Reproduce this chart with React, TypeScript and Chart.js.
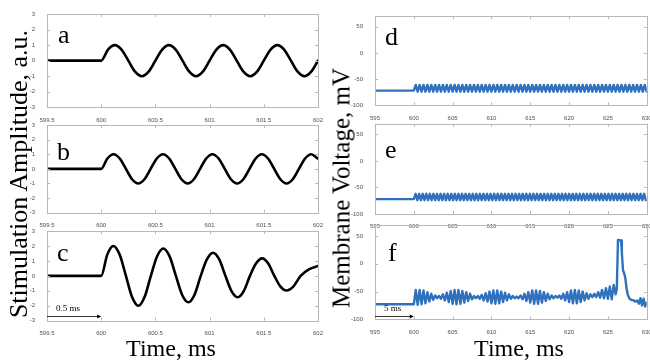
import React, { useEffect, useRef } from 'react';
import { Chart, registerables } from 'chart.js';

Chart.register(...registerables);

const W = 650;
const H = 362;
const YW = 40;
const XH = 20;

// ---------- Left column: stimulation amplitude (a.u.) vs time (ms) ----------
const stimXTicks = [599.5, 600, 600.5, 601, 601.5, 602];
const stimYTicks = [-3, -2, -1, 0, 1, 2, 3];
const stimRestTimes = [599.5, 600];
const stimRest = [0, 0];

// a: read every 1/16 ms from 600 ms
const aStep = 0.0625;
const aAmps = [0,
  0.71, 1, 0.71, 0, -0.71, -1, -0.71, 0,
  0.71, 1, 0.71, 0, -0.71, -1, -0.71, 0,
  0.71, 1, 0.71, 0, -0.71, -1, -0.71, 0,
  0.71, 1, 0.71, 0, -0.71, -1, -0.71, 0];

// b: read every 0.057 ms from 600 ms
const bStep = 0.057;
const bAmps = [0,
  0.71, 1, 0.71, 0, -0.71, -1, -0.71, 0,
  0.71, 1, 0.71, 0, -0.71, -1, -0.71, 0,
  0.71, 1, 0.71, 0, -0.71, -1, -0.71, 0,
  0.71, 1, 0.71, 0, -0.71, -1, -0.71, 0,
  0.71, 1, 0.72];

// c: damped wave
const cTimes = [600, 600.056, 600.112, 600.17, 600.228, 600.285, 600.343, 600.4, 600.458, 600.515, 600.573, 600.631, 600.689, 600.746, 600.804, 600.861, 600.918, 600.975, 601.032, 601.089, 601.146, 601.202, 601.259, 601.315, 601.372, 601.428, 601.485, 601.541, 601.597, 601.652, 601.708, 601.774, 601.84, 601.92, 602];
const cAmps = [0, 1.42, 2.0, 1.42, 0, -1.42, -2.0, -1.42, 0, 1.3, 1.83, 1.3, 0, -1.26, -1.77, -1.26, 0, 1.1, 1.55, 1.1, 0, -1.02, -1.43, -1.02, 0, 0.83, 1.17, 0.83, 0, -0.7, -0.98, -0.7, 0, 0.45, 0.66];

// ---------- Right column: membrane voltage (mV) vs time (ms) ----------
const voltXTicks = [595, 600, 605, 610, 615, 620, 625, 630];
const voltYTicks = [-100, -50, 0, 50];
const restTimes = [595, 600];

const dRest = [-72, -72];
const dStep = 0.25; // ms between samples, starting at 600 ms
const dVolts = [-72,
  -61, -74, -61, -74, -61, -74, -61, -74, -61, -74, -61, -74, -61, -74, -61, -74, -61, -74, -61, -74,
  -61, -74, -61, -74, -61, -74, -61, -74, -61, -74, -61, -74, -61, -74, -61, -74, -61, -74, -61, -74,
  -61, -74, -61, -74, -61, -74, -61, -74, -61, -74, -61, -74, -61, -74, -61, -74, -61, -74, -61, -74,
  -61, -74, -61, -74, -61, -74, -61, -74, -61, -74, -61, -74, -61, -74, -61, -74, -61, -74, -61, -74,
  -61, -74, -61, -74, -61, -74, -61, -74, -61, -74, -61, -74, -61, -74, -61, -74, -61, -74, -61, -74,
  -61, -74, -61, -74, -61, -74, -61, -74, -61, -74, -61, -74, -61, -74, -61, -74, -61, -74, -61, -74];

const eRest = [-72, -72];
const eStep = 0.23;
const eVolts = [-72,
  -62, -74, -62, -74, -62, -74, -62, -74, -62, -74, -62, -74, -62, -74, -62, -74, -62, -74, -62, -74,
  -62, -74, -62, -74, -62, -74, -62, -74, -62, -74, -62, -74, -62, -74, -62, -74, -62, -74, -62, -74,
  -62, -74, -62, -74, -62, -74, -62, -74, -62, -74, -62, -74, -62, -74, -62, -74, -62, -74, -62, -74,
  -62, -74, -62, -74, -62, -74, -62, -74, -62, -74, -62, -74, -62, -74, -62, -74, -62, -74, -62, -74,
  -62, -74, -62, -74, -62, -74, -62, -74, -62, -74, -62, -74, -62, -74, -62, -74, -62, -74, -62, -74,
  -62, -74, -62, -74, -62, -74, -62, -74, -62, -74, -62, -74, -62, -74, -62, -74, -62, -74, -62, -74,
  -62, -74, -62, -74, -62, -74, -62, -74, -62, -74];

const fRest = [-73, -73];
const fStep = 0.25;
const fVolts = [
  -73, -47, -74, -47,
  -73, -48, -71, -51,
  -68, -54, -65, -57,
  -62, -58, -63, -55,
  -66, -52, -69, -49,
  -72, -47, -73, -47,
  -72, -49, -70, -51,
  -67, -54, -64, -58,
  -62, -58, -63, -56,
  -66, -53, -68, -50,
  -71, -48, -72, -48,
  -71, -50, -69, -52,
  -66, -55, -63, -58,
  -62, -59, -62, -57,
  -64, -54, -67, -51,
  -70, -48, -72, -48,
  -72, -49, -70, -51,
  -67, -54, -64, -57,
  -62, -58, -61, -57,
  -63, -54, -66, -51,
  -69, -48, -71, -47,
  -71, -48, -69, -50,
  -66, -53, -63, -55,
  -60, -54, -60, -51,
  -61, -47, -62, -44,
  -63, -41, -64, -38,
  -55];
const fSpikeTimes = [626.15, 626.3, 626.7, 626.8, 626.95, 627.1, 627.25, 627.4, 627.55, 627.75, 628.0, 628.3, 628.6, 628.8, 629.0, 629.2, 629.4, 629.6, 629.8, 630];
const fSpikeVolts = [-45, 43, 42, 20, -12, -17, -26, -44, -55, -62, -65, -66, -68, -66, -72, -62, -75, -63, -77, -70];

// scale-bar annotations
const cArrow = { from: 599.5, to: 600, at: -2.68 };
const fArrow = { from: 595, to: 600, at: -93.5 };

type Pt = { x: number; y: number };
type Panel = {
  key: string;
  pts: Pt[];
  box: [number, number, number, number];
  xr: [number, number];
  yr: [number, number];
  xt: number[];
  yt: number[];
  color: string;
  width: number;
  smooth: boolean;
  arrow?: { from: number; to: number; at: number };
};

const zip = (xs: number[], ys: number[]): Pt[] => xs.map((x, i) => ({ x, y: ys[i] }));
const sampled = (start: number, step: number, ys: number[]): Pt[] => ys.map((y, i) => ({ x: start + i * step, y }));

const BLUE = '#2f71bd';

const panels: Panel[] = [
  { key: 'a', pts: [...zip(stimRestTimes, stimRest), ...sampled(600, aStep, aAmps).slice(1)], box: [47, 14, 318, 107.3], xr: [599.5, 602], yr: [-3, 3], xt: stimXTicks, yt: stimYTicks, color: '#000', width: 2.6, smooth: true },
  { key: 'b', pts: [...zip(stimRestTimes, stimRest), ...sampled(600, bStep, bAmps).slice(1)], box: [47, 125, 318, 212.7], xr: [599.5, 602], yr: [-3, 3], xt: stimXTicks, yt: stimYTicks, color: '#000', width: 2.6, smooth: true },
  { key: 'c', pts: [...zip(stimRestTimes, stimRest), ...zip(cTimes, cAmps).slice(1)], box: [47, 231, 318, 320.7], xr: [599.5, 602], yr: [-3, 3], xt: stimXTicks, yt: stimYTicks, color: '#000', width: 2.6, smooth: true, arrow: cArrow },
  { key: 'd', pts: [...zip(restTimes, dRest), ...sampled(600, dStep, dVolts)], box: [375, 16.2, 646.7, 105.3], xr: [595, 630], yr: [-100, 70], xt: voltXTicks, yt: voltYTicks, color: BLUE, width: 2.4, smooth: false },
  { key: 'e', pts: [...zip(restTimes, eRest), ...sampled(600, eStep, eVolts)], box: [375, 123.7, 646.7, 214], xr: [595, 630], yr: [-100, 70], xt: voltXTicks, yt: voltYTicks, color: BLUE, width: 2.4, smooth: false },
  { key: 'f', pts: [...zip(restTimes, fRest), ...sampled(600, fStep, fVolts), ...zip(fSpikeTimes, fSpikeVolts)], box: [375, 225, 646.7, 319.3], xr: [595, 630], yr: [-100, 70], xt: voltXTicks, yt: voltYTicks, color: BLUE, width: 2.4, smooth: false, arrow: fArrow },
];

const TICK_FONT = { family: '"Liberation Sans", Arial, sans-serif', size: 6 };
const TICK_COLOR = '#505050';
const FRAME = '#b8b8b8';

function framePlugin(p: Panel) {
  return {
    id: 'frame' + p.key,
    afterDatasetsDraw(chart: any) {
      const { ctx, chartArea: a, scales } = chart;
      const xs = scales.x;
      const ys = scales.y;
      ctx.save();
      ctx.strokeStyle = FRAME;
      ctx.lineWidth = 1;
      ctx.strokeRect(Math.round(a.left) + 0.5, Math.round(a.top) + 0.5, Math.round(a.right - a.left), Math.round(a.bottom - a.top));
      ctx.beginPath();
      xs.ticks.forEach((t: any) => {
        const px = Math.round(xs.getPixelForValue(t.value)) + 0.5;
        ctx.moveTo(px, a.bottom); ctx.lineTo(px, a.bottom - 3);
        ctx.moveTo(px, a.top); ctx.lineTo(px, a.top + 3);
      });
      ys.ticks.forEach((t: any) => {
        const py = Math.round(ys.getPixelForValue(t.value)) + 0.5;
        ctx.moveTo(a.left, py); ctx.lineTo(a.left + 3, py);
        ctx.moveTo(a.right, py); ctx.lineTo(a.right - 3, py);
      });
      ctx.stroke();
      if (p.arrow) {
        const x0 = xs.getPixelForValue(p.arrow.from);
        const x1 = xs.getPixelForValue(p.arrow.to);
        const y = Math.round(ys.getPixelForValue(p.arrow.at)) + 0.5;
        ctx.strokeStyle = '#000';
        ctx.fillStyle = '#000';
        ctx.lineWidth = 0.8;
        ctx.beginPath();
        ctx.moveTo(x0, y); ctx.lineTo(x1 - 3, y);
        ctx.stroke();
        ctx.beginPath();
        ctx.moveTo(x1, y); ctx.lineTo(x1 - 4, y - 2); ctx.lineTo(x1 - 4, y + 2); ctx.closePath();
        ctx.fill();
      }
      ctx.restore();
    },
  };
}

function config(p: Panel): any {
  const [l, t, r, b] = p.box;
  return {
    type: 'line',
    data: {
      datasets: [{
        data: p.pts,
        borderColor: p.color,
        borderWidth: p.width,
        pointRadius: 0,
        fill: false,
        tension: 0,
        cubicInterpolationMode: p.smooth ? 'monotone' : 'default',
        borderJoinStyle: 'round',
        borderCapStyle: 'round',
      }],
    },
    options: {
      responsive: false,
      animation: false,
      events: [],
      layout: { autoPadding: false, padding: { left: l - YW, top: t, right: W - r, bottom: H - b - XH } },
      plugins: { legend: { display: false }, tooltip: { enabled: false } },
      scales: {
        x: {
          type: 'linear', min: p.xr[0], max: p.xr[1],
          afterBuildTicks: (s: any) => { s.ticks = p.xt.map((v) => ({ value: v })); },
          afterFit: (s: any) => { s.height = XH; s.paddingLeft = 0; s.paddingRight = 0; },
          ticks: { callback: (v: any) => String(v), font: TICK_FONT, color: TICK_COLOR, padding: 1, maxRotation: 0, minRotation: 0, autoSkip: false },
          grid: { display: false },
          border: { display: false },
        },
        y: {
          type: 'linear', min: p.yr[0], max: p.yr[1],
          afterBuildTicks: (s: any) => { s.ticks = p.yt.map((v) => ({ value: v })); },
          afterFit: (s: any) => { s.width = YW; s.paddingTop = 0; s.paddingBottom = 0; },
          ticks: { callback: (v: any) => String(v), font: TICK_FONT, color: TICK_COLOR, padding: 4, autoSkip: false },
          grid: { display: false },
          border: { display: false },
        },
      },
    },
    plugins: [framePlugin(p)],
  };
}

const SERIF = '"Liberation Serif", "Times New Roman", Times, serif';
const ASC = 0.8375;

const letters = ['a', 'b', 'c', 'd', 'e', 'f'];
const letterPos: [number, number][] = [[58, 43.3], [57, 160.7], [57, 261.7], [385, 45.7], [385, 158.3], [388, 261.7]];
const LETTER_SIZE = 26;

function Txt({ x, base, size, children }: { x: number; base: number; size: number; children: React.ReactNode }) {
  return (
    <div style={{ position: 'absolute', left: x, top: base - ASC * size, fontFamily: SERIF, fontSize: size, lineHeight: 1, whiteSpace: 'nowrap', color: '#000' }}>{children}</div>
  );
}

function VTxt({ cx, cy, size, children }: { cx: number; cy: number; size: number; children: React.ReactNode }) {
  return (
    <div style={{ position: 'absolute', left: cx, top: cy, transform: 'translate(-50%, -50%) rotate(-90deg)', fontFamily: SERIF, fontSize: size, lineHeight: 1, whiteSpace: 'nowrap', color: '#000' }}>{children}</div>
  );
}

function CTxt({ cx, base, size, children }: { cx: number; base: number; size: number; children: React.ReactNode }) {
  return (
    <div style={{ position: 'absolute', left: cx, top: base - ASC * size, transform: 'translateX(-50%)', fontFamily: SERIF, fontSize: size, lineHeight: 1, whiteSpace: 'nowrap', color: '#000' }}>{children}</div>
  );
}

export default function App() {
  const refs = useRef<(HTMLCanvasElement | null)[]>([]);
  useEffect(() => {
    const charts = panels.map((p, i) => new Chart(refs.current[i] as HTMLCanvasElement, config(p)));
    return () => charts.forEach((c) => c.destroy());
  }, []);
  return (
    <div style={{ position: 'fixed', left: 0, top: 0, width: W, height: H, background: '#fff', overflow: 'hidden' }}>
      {panels.map((p, i) => (
        <canvas key={p.key} ref={(el) => { refs.current[i] = el; }} width={W} height={H} style={{ position: 'absolute', left: 0, top: 0, width: W, height: H }} />
      ))}
      {letters.map((t, i) => (
        <Txt key={t} x={letterPos[i][0]} base={letterPos[i][1]} size={LETTER_SIZE}>{t}</Txt>
      ))}
      <VTxt cx={18.5} cy={174} size={26}>Stimulation Amplitude, a.u.</VTxt>
      <VTxt cx={341} cy={188} size={25}>Membrane Voltage, mV</VTxt>
      <CTxt cx={171} base={356} size={24}>Time, ms</CTxt>
      <CTxt cx={519} base={356} size={24}>Time, ms</CTxt>
      <Txt x={56} base={311.5} size={9}>0.5 ms</Txt>
      <Txt x={384} base={312} size={9}>5 ms</Txt>
    </div>
  );
}
